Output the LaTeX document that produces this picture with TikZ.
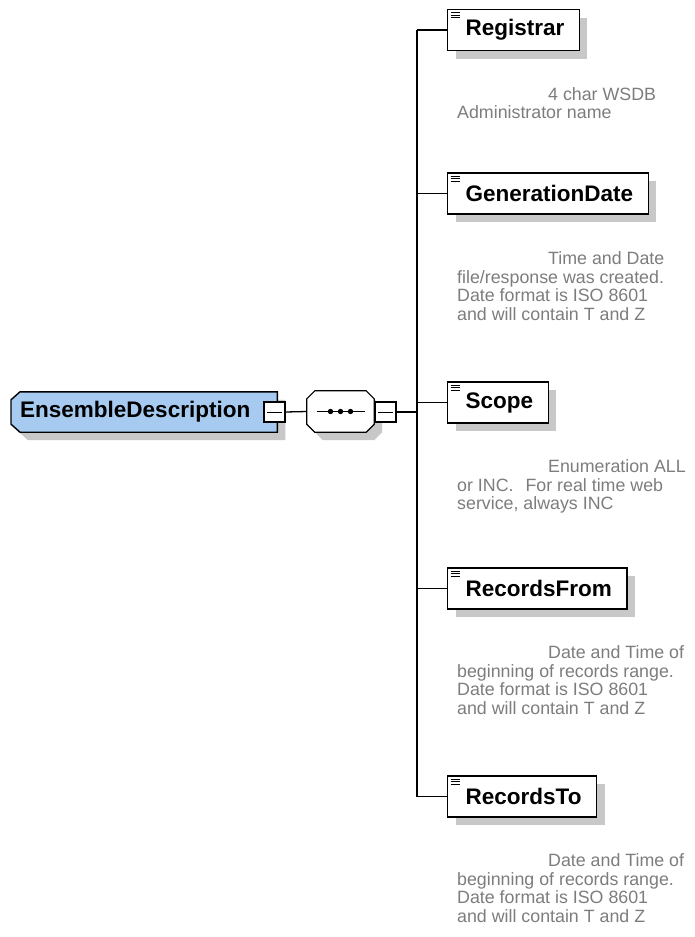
\documentclass[tikz,border=0pt]{standalone}
\usepackage{fontspec}
\setmainfont{Liberation Sans}
\usetikzlibrary{shadows}

\definecolor{rootblue}{RGB}{166,202,240}
\definecolor{shadegray}{RGB}{200,200,200}
\definecolor{notegray}{RGB}{125,125,125}

\pgfdeclarelayer{back}
\pgfsetlayers{back,main}

\tikzset{
  boxshadow/.style={general shadow={fill=shadegray, draw=none, shadow xshift=8pt, shadow yshift=-8pt}},
  rootbox/.style={draw=none, minimum width=266pt, minimum height=40pt,
    inner xsep=9pt, inner ysep=0pt, font=\fontsize{22.5pt}{26pt}\bfseries\selectfont},
  seqbox/.style={draw=none, minimum width=67pt, minimum height=41pt, inner sep=0pt},
  outline/.style={draw=black, line width=1.4pt},
  shade/.style={fill=shadegray, transform canvas={xshift=8pt, yshift=-8pt}},
  minusbox/.style={draw=black, line width=1.2pt, fill=white,
    minimum width=21pt, minimum height=20pt, inner sep=0pt,
    path picture={\draw[line width=0.9pt]
      ([xshift=3pt]path picture bounding box.west) -- ([xshift=-3pt]path picture bounding box.east);}},
  elembox/.style={draw=black, line width=1.4pt, fill=white, boxshadow, anchor=west,
    minimum height=41pt, inner xsep=15pt, inner ysep=0pt,
    font=\fontsize{22.5pt}{26pt}\bfseries\selectfont,
    path picture={
      \foreach \dy in {3,5.5,8}
        \draw[line width=0.9pt]
          ([xshift=3pt,yshift=-\dy pt]path picture bounding box.north west) -- ++(9pt,0);}},
  note/.style={anchor=north west, inner sep=0pt, align=left, text=notegray,
    font=\fontsize{17.8pt}{18.6pt}\selectfont},
  conn/.style={draw=black, line width=1.3pt},
}

\newcommand{\firstline}{\rule{0pt}{13.5pt}\hspace*{91pt}}
% outline of a box with its two left corners cut off
\newcommand{\leftcutpath}[1]{([xshift=9pt]#1.north west) -- (#1.north east) -- (#1.south east)
  -- ([xshift=9pt]#1.south west) -- ([yshift=8pt]#1.south west) -- ([yshift=-8pt]#1.north west) -- cycle}
% outline of a box with all four corners cut off
\newcommand{\octpath}[1]{([xshift=8pt]#1.north west) -- ([xshift=-8pt]#1.north east)
  -- ([yshift=-8pt]#1.north east) -- ([yshift=8pt]#1.south east) -- ([xshift=-8pt]#1.south east)
  -- ([xshift=8pt]#1.south west) -- ([yshift=8pt]#1.south west) -- ([yshift=-8pt]#1.north west) -- cycle}

\begin{document}
\begin{tikzpicture}[x=1pt,y=-1pt]
  \useasboundingbox (0,0) rectangle (695,937);

  % root element
  \node[rootbox, anchor=west] (root) at (11,412) {\makebox[248pt][l]{EnsembleDescription}};
  % sequence compositor
  \node[seqbox] (seq) at (340.5,411.5) {};

  \begin{pgfonlayer}{back}
    \fill[white] (0,0) rectangle (695,937);
    \fill[shade] \leftcutpath{root};
    \fill[shade] \octpath{seq};
    \filldraw[outline, fill=rootblue] \leftcutpath{root};
    \filldraw[outline, line width=1.2pt, fill=white] \octpath{seq};
  \end{pgfonlayer}

  \node[minusbox] (rootminus) at (274.5,412) {};
  \draw[line width=1.5pt] ([xshift=-24pt]seq.center) -- ([xshift=24pt]seq.center);
  \foreach \dx in {-10,0,10}
    \fill ([xshift=\dx pt]seq.center) circle[radius=2.7pt];
  \node[minusbox] (seqminus) at (385.5,412) {};

  % child elements
  \node[elembox] (e1) at (447,30)    {\hspace*{3pt}Registrar};
  \node[elembox] (e2) at (447,193.5) {\hspace*{3pt}GenerationDate};
  \node[elembox] (e3) at (447,402.5) {\hspace*{3pt}Scope};
  \node[elembox] (e4) at (447,588.5) {\hspace*{3pt}RecordsFrom};
  \node[elembox] (e5) at (447,796.5) {\hspace*{3pt}RecordsTo};

  % annotations
  \node[note] (n1) at (457,86.5) {\firstline 4 char WSDB\\Administrator name};
  \node[note] (n2) at (457,251) {\firstline Time and Date\\file/response was created.\\Date format is ISO 8601\\and will contain T and Z};
  \node[note] (n3) at (457,459) {\firstline Enumeration ALL\\or INC.\hspace*{12pt}For real time web\\service, always INC};
  \node[note] (n4) at (457,645) {\firstline Date and Time of\\beginning of records range.\\Date format is ISO 8601\\and will contain T and Z};
  \node[note] (n5) at (457,853) {\firstline Date and Time of\\beginning of records range.\\Date format is ISO 8601\\and will contain T and Z};

  % connectors
  \coordinate (bus) at (417,412);
  \draw[conn] (rootminus.east) -- (seq.west);
  \draw[conn] (seqminus.east) -- (bus);
  \draw[conn] (e1.west -| bus) -- (e5.west -| bus);
  \foreach \e in {e1,e2,e3,e4,e5}
    \draw[conn] (\e.west -| bus) -- (\e.west);
\end{tikzpicture}
\end{document}
